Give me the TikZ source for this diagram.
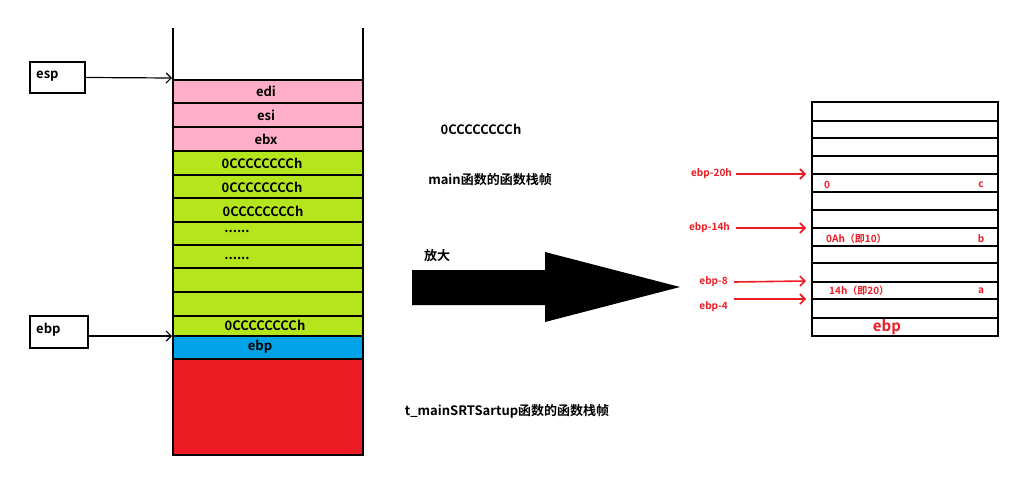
\documentclass[tikz,border=0pt]{standalone}
\usetikzlibrary{arrows.meta}
\usepackage{fontspec}
\setmainfont{Noto Sans CJK SC}[BoldFont={Noto Sans CJK SC Bold}]
\definecolor{pk}{HTML}{FFAEC9}
\definecolor{gr}{HTML}{B5E61D}
\definecolor{bl}{HTML}{00A2E8}
\definecolor{rd}{HTML}{ED1C24}
\begin{document}
\begin{tikzpicture}[x=1pt,y=-1pt,
  cell/.style={draw=black,line width=2pt},
  lbl/.style={font=\bfseries\fontsize{13}{13}\selectfont,inner sep=0pt},
  rl/.style={font=\bfseries\fontsize{10}{10}\selectfont,text=rd,inner sep=0pt},
  ptr/.style={-{Straight Barb[length=5pt,width=10pt]},line width=1.2pt},
  rptr/.style={-{Straight Barb[length=5pt,width=10pt]},line width=1.6pt,draw=rd}]
\useasboundingbox (0,0) rectangle (1028,479);
\fill[white] (0,0) rectangle (1028,479);
% left stack
\foreach \t/\b/\c in {80/103/pk,103/127/pk,127/151/pk,151/175/gr,175/198/gr,198/222/gr,222/245/gr,245/268/gr,268/292/gr,292/316/gr,316/336/gr,336/359/bl,359/455/rd}
  \filldraw[cell,fill=\c] (173,\t) rectangle (363,\b);
\draw[line width=2pt] (173,28) -- (173,455) (363,28) -- (363,455);
\node[lbl] (l1) at (266,91) {edi};
\node[lbl] (l2) at (266,115) {esi};
\node[lbl] (l3) at (266,139) {ebx};
\node[lbl] (l4) at (262,163) {0CCCCCCCCh};
\node[lbl] (l5) at (262,187) {0CCCCCCCCh};
\node[lbl] (l6) at (263,211) {0CCCCCCCCh};
\node[lbl] (l7) at (237,231) {......};
\node[lbl] (l8) at (237,258) {......};
\node[lbl] (l9) at (265,325) {0CCCCCCCCh};
\node[lbl] (l10) at (260,347) {ebp};
% pointers
\node[draw,line width=2pt,minimum width=55pt,minimum height=31pt,lbl] (esp) at (57.5,77.5) {};
\node[lbl,anchor=west] at (36,76) {esp};
\coordinate (espT) at (172,78);
\draw[ptr] (esp.east) -- (espT);
\node[draw,line width=2pt,minimum width=58pt,minimum height=32pt] (ebpb) at (59,332) {};
\node[lbl,anchor=west] at (36,330) {ebp};
\coordinate (ebpT) at (172,336);
\draw[ptr] (ebpb.east|-ebpT) -- (ebpT);
% texts
\node[lbl] (t1) at (481,129) {0CCCCCCCCh};
\node[lbl] (t2) at (490,180) {main函数的函数栈帧};
\node[lbl] (t3) at (437,256) {放大};
\node[lbl] (t4) at (507,411) {t\_mainSRTSartup函数的函数栈帧};
% big arrow
\fill[black] (412,270) -- (545,270) -- (545,252) -- (680,287) -- (545,322) -- (545,305) -- (412,305) -- cycle;
% right stack
\foreach \t/\b in {102/121,121/138,138/156,156/174,174/192,192/210,210/228,228/246,246/263,263/282,282/299,299/318,318/336}
  \draw[cell] (812,\t) rectangle (998,\b);
\node[rl] (c0) at (827,185) {0};
\node[rl] (cc) at (981,185) {c};
\node[rl,anchor=west] (b0) at (826,239) {0Ah（即10）};
\node[rl] (bb) at (981,239) {b};
\node[rl,anchor=west] (a0) at (829,291) {14h（即20）};
\node[rl] (aa) at (981,291) {a};
\node[font=\bfseries\fontsize{15}{15}\selectfont,text=rd,inner sep=0pt] (eb) at (887,327) {ebp};
\node[rl,anchor=east] (p1) at (732,174) {ebp-20h};
\node[rl,anchor=east] (p2) at (730,228) {ebp-14h};
\node[rl,anchor=east] (p3) at (728,282) {ebp-8};
\node[rl,anchor=east] (p4) at (728,307) {ebp-4};
\coordinate (q1) at (806,174);
\coordinate (q2) at (806,228);
\coordinate (q3) at (806,281);
\coordinate (q4) at (806,299);
\draw[rptr] (p1.east)++(4,0) -- (q1);
\draw[rptr] (p2.east)++(6,0) -- (q2);
\draw[rptr] (p3.east)++(6,0) -- (q3);
\draw[rptr] (734,299) -- (q4);
\end{tikzpicture}
\end{document}
